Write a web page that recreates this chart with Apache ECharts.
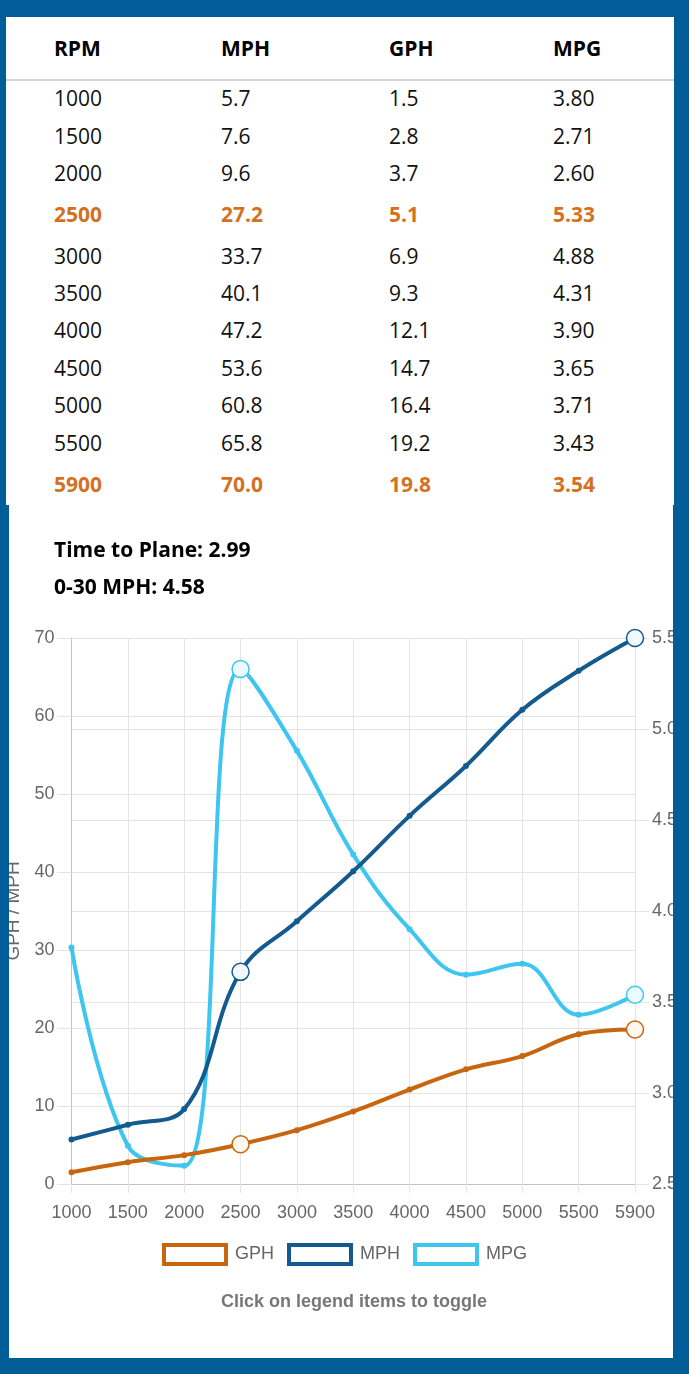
<!DOCTYPE html>
<html><head><meta charset="utf-8">
<script src="https://cdn.jsdelivr.net/npm/echarts@6/dist/echarts.min.js"></script>
<style>
html,body{margin:0;padding:0;}
body{width:689px;height:1374px;background:#015d98;position:relative;overflow:hidden;font-family:"Open Sans","Noto Sans",sans-serif;}
#tablePanel{position:absolute;left:6px;top:17px;width:668px;height:488px;background:#fff;}
#chartPanel{position:absolute;left:9px;top:505px;width:664px;height:853px;background:#fff;overflow:hidden;}
#chart{position:absolute;left:-9px;top:0;width:689px;height:853px;}
.cell{position:absolute;font-size:21px;line-height:21px;white-space:nowrap;color:#111;z-index:3;}
.bold{font-weight:700;color:#000;}
.hl{font-weight:700;color:#d4711f;}
#sep{position:absolute;left:6px;top:79px;width:668px;height:2px;background:#d4d4d4;z-index:3;}
</style></head>
<body>
<div id="tablePanel"></div>
<div id="sep"></div>
<div id="chartPanel"><div id="chart"></div></div>
<script>
// ---- data ----
const rpm = ['1000','1500','2000','2500','3000','3500','4000','4500','5000','5500','5900'];
const mph = [5.7, 7.6, 9.6, 27.2, 33.7, 40.1, 47.2, 53.6, 60.8, 65.8, 70.0];
const gph = [1.5, 2.8, 3.7, 5.1, 6.9, 9.3, 12.1, 14.7, 16.4, 19.2, 19.8];
const mpg = [3.80, 2.71, 2.60, 5.33, 4.88, 4.31, 3.90, 3.65, 3.71, 3.43, 3.54];
const highlightRPM = ['2500', '5900'];
const tableHeaders = ['RPM', 'MPH', 'GPH', 'MPG'];
const seriesNames = ['GPH', 'MPH', 'MPG'];
const statLabels = ['Time to Plane: 2.99', '0-30 MPH: 4.58'];
const yLeftTicks = [0, 10, 20, 30, 40, 50, 60, 70];
const yRightTicks = [2.5, 3.0, 3.5, 4.0, 4.5, 5.0, 5.5];
const leftAxisName = 'GPH / MPH';
const footNote = 'Click on legend items to toggle';

// ---- table (HTML text) ----
const colX = [54, 221, 389, 553];
function addCell(text, x, centerY, cls) {
  const d = document.createElement('div');
  d.className = 'cell ' + (cls || '');
  d.textContent = text;
  d.style.left = x + 'px';
  d.style.top = (centerY - 11.15) + 'px';
  document.body.appendChild(d);
}
tableHeaders.forEach((h, i) => addCell(h, colX[i], 48.7, 'bold'));
let c = 99.5;
const normalH = 37.4, hlH = 45;
rpm.forEach((r, i) => {
  const hl = highlightRPM.includes(r);
  if (i > 0) {
    const prevHl = highlightRPM.includes(rpm[i - 1]);
    c += ((prevHl ? hlH : normalH) + (hl ? hlH : normalH)) / 2;
  }
  const vals = [r, mph[i].toFixed(1), gph[i].toFixed(1), mpg[i].toFixed(2)];
  vals.forEach((v, j) => addCell(v, colX[j], c, hl ? 'hl' : ''));
});
addCell(statLabels[0], 54, 550, 'bold');
addCell(statLabels[1], 54, 587, 'bold');

// ---- chart ----
const colors = { GPH: '#c8660f', MPH: '#135b8e', MPG: '#3ec5f0' };
const tints = { GPH: '#fff8ee', MPH: '#f3f8fc', MPG: '#ebfaff' };
const values = { GPH: gph, MPH: mph, MPG: mpg };
const zs = { GPH: 5, MPH: 4, MPG: 3 };
const gridColor = '#e4e4e4';
const axisColor = '#c2c2c2';
const labelFont = 'Liberation Sans, Arial, sans-serif';

function mkData(name) {
  return values[name].map((v, i) => {
    if (highlightRPM.includes(rpm[i])) {
      return { value: v, symbolSize: 17,
        itemStyle: { color: tints[name], borderColor: colors[name], borderWidth: 1.5 } };
    }
    return { value: v, symbolSize: 6, itemStyle: { color: colors[name], borderWidth: 0 } };
  });
}

const chart = echarts.init(document.getElementById('chart'), null, { renderer: 'canvas' });
chart.setOption({
  animation: false,
  grid: { left: 71.5, right: 54, top: 133, bottom: 174, containLabel: false, outerBoundsMode: 'none' },
  legend: {
    data: seriesNames.map(n => ({ name: n, icon: 'rect',
      itemStyle: { color: '#fff', borderColor: colors[n], borderWidth: 4 } })),
    left: 162, top: 738, padding: 0,
    itemWidth: 62, itemHeight: 19, itemGap: 13,
    textStyle: { color: '#666', fontSize: 18, fontFamily: labelFont, padding: [0, 0, 0, 4] }
  },
  xAxis: {
    type: 'category', data: rpm, boundaryGap: false,
    axisLine: { lineStyle: { color: axisColor, width: 1 } },
    axisTick: { show: true, length: 9, lineStyle: { color: gridColor } },
    axisLabel: { color: '#666', fontSize: 18, fontFamily: labelFont, margin: 20 },
    splitLine: { show: true, lineStyle: { color: gridColor, width: 1 } }
  },
  yAxis: [{
    type: 'value', min: yLeftTicks[0], max: yLeftTicks[yLeftTicks.length - 1],
    interval: yLeftTicks[1] - yLeftTicks[0],
    name: leftAxisName, nameLocation: 'middle', nameGap: 47,
    nameTextStyle: { color: '#666', fontSize: 19, fontFamily: labelFont },
    axisLine: { show: true, lineStyle: { color: axisColor } },
    axisTick: { show: true, length: 14, lineStyle: { color: gridColor } },
    axisLabel: { color: '#666', fontSize: 18, fontFamily: labelFont, margin: 17 },
    splitLine: { show: true, lineStyle: { color: gridColor } }
  }, {
    type: 'value', position: 'right', min: yRightTicks[0], max: yRightTicks[yRightTicks.length - 1],
    interval: 0.5,
    axisLine: { show: true, lineStyle: { color: gridColor } },
    axisTick: { show: true, length: 14, lineStyle: { color: gridColor } },
    axisLabel: { color: '#666', fontSize: 18, fontFamily: labelFont, margin: 17,
      formatter: v => v.toFixed(1) },
    splitLine: { show: true, lineStyle: { color: gridColor } }
  }],
  series: seriesNames.map(n => ({
    name: n, type: 'line', yAxisIndex: n === 'MPG' ? 1 : 0,
    smooth: 0.4, symbol: 'circle', showAllSymbol: true, z: zs[n],
    lineStyle: { color: colors[n], width: 4 },
    itemStyle: { color: colors[n] },
    data: mkData(n)
  })),
  graphic: [{
    type: 'text', x: 354, y: 796.7,
    style: { text: footNote, fill: '#777', font: 'bold 18px ' + labelFont,
      textAlign: 'center', textVerticalAlign: 'middle' }
  }]
});
</script>
</body></html>
